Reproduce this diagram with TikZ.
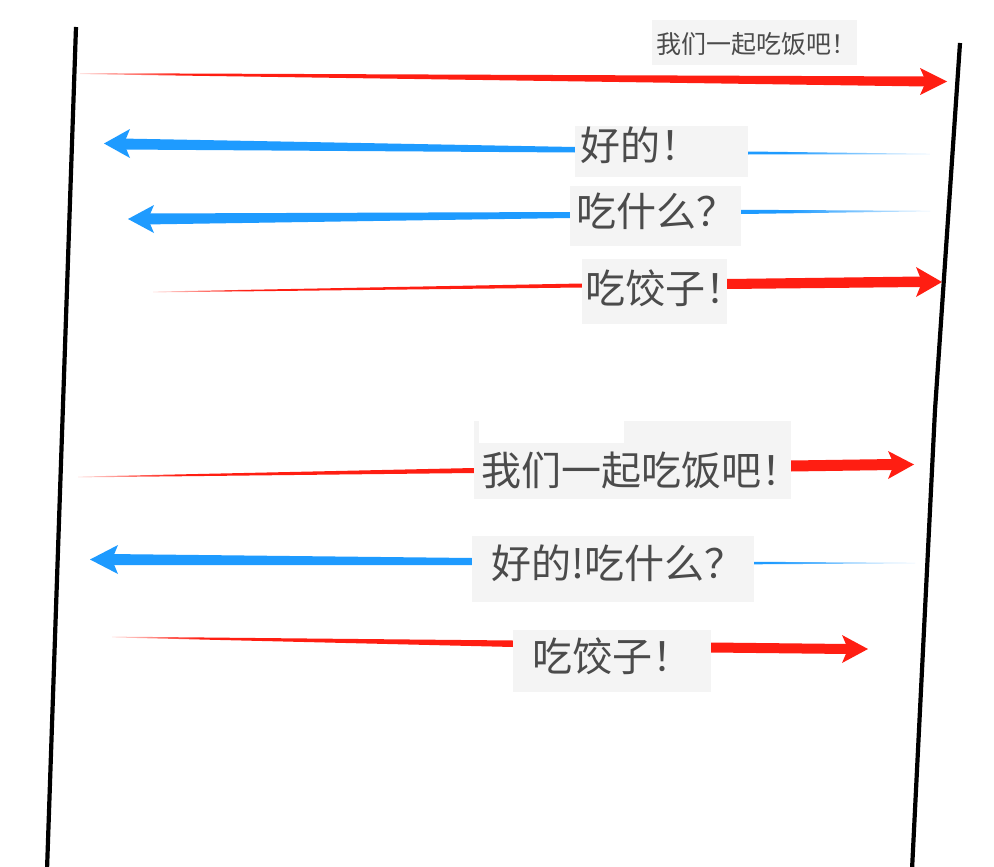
\documentclass[tikz,border=0pt]{standalone}
\usepackage{fontspec}
\newfontfamily\cjk{Noto Sans CJK SC}
\definecolor{arrred}{RGB}{255,30,18}
\definecolor{arrblue}{RGB}{30,155,255}
\definecolor{boxgray}{RGB}{244,244,244}
\definecolor{txtgray}{RGB}{75,75,75}
\pgfdeclarehorizontalshading{redfade}{100bp}{color(0bp)=(arrred!12); color(25bp)=(arrred!12); color(31bp)=(arrred); color(100bp)=(arrred)}
\pgfdeclarehorizontalshading{bluefade}{100bp}{color(0bp)=(arrblue); color(66bp)=(arrblue); color(75bp)=(arrblue!12); color(100bp)=(arrblue!12)}
\tikzset{
  lbox/.style={fill=boxgray, draw=none, inner sep=0pt, anchor=north west},
  ltext/.style={font=\cjk\fontsize{40}{44}\selectfont, text=txtgray, inner sep=0pt, anchor=west},
  stext/.style={font=\cjk\fontsize{25}{28}\selectfont, text=txtgray, inner sep=0pt, anchor=west},
  lifeline/.style={line width=4.2pt, black},
  redshaft/.style={shading=redfade},
  blueshaft/.style={shading=bluefade},
  redhead/.style={fill=arrred},
  bluehead/.style={fill=arrblue}
}
\begin{document}
\begin{tikzpicture}[x=1pt,y=-1pt]
\fill[white] (0,0) rectangle (994,867);
\useasboundingbox (0,0) rectangle (994,867);

% lifelines
\coordinate (L1) at (76,27);
\coordinate (L2) at (47,870);
\coordinate (R1) at (960,43);
\coordinate (R2) at (912,870);

% arrow 1 (red, right)
\coordinate (a1tail) at (80,73.5);
\coordinate (a1tip) at (947,81.5);
\shade[redshaft] (80,73.1) -- (926,76.5) -- (926,86.5) -- (80,74.1) -- cycle;
\fill[redhead] (920,68) -- (a1tip) -- (920,95) -- (926,81.5) -- cycle;

% arrow 2 (blue, left)
\coordinate (a2tail) at (930,154);
\coordinate (a2tip) at (104,143.5);
\shade[blueshaft] (120,138.5) -- (575,147) -- (748,151.5) -- (930,153.8) -- (930,154.3) -- (748,154.5) -- (575,152.5) -- (120,149.5) -- cycle;
\fill[bluehead] (130,129) -- (a2tip) -- (130,158) -- (124,143.5) -- cycle;

% arrow 3 (blue, left)
\coordinate (a3tail) at (930,211);
\coordinate (a3tip) at (128,219);
\shade[blueshaft] (144,213.5) -- (570,212) -- (741,209.8) -- (930,210.8) -- (930,211.3) -- (741,214) -- (570,218) -- (144,224.5) -- cycle;
\fill[bluehead] (154,205) -- (a3tip) -- (154,233) -- (148,219) -- cycle;

% arrow 4 (red, right)
\coordinate (a4tail) at (153,292);
\coordinate (a4tip) at (942,282);
\shade[redshaft] (153,291.6) -- (582,283.5) -- (727,279) -- (922,276.5) -- (922,287) -- (727,289) -- (582,287.5) -- (153,292.4) -- cycle;
\fill[redhead] (916,267) -- (a4tip) -- (916,297) -- (922,282) -- cycle;

% arrow 5 (red, right)
\coordinate (a5tail) at (78,477);
\coordinate (a5tip) at (914,464.5);
\shade[redshaft] (78,476.6) -- (474,468) -- (791,460.5) -- (894,459) -- (894,470) -- (791,471.5) -- (474,473) -- (78,477.4) -- cycle;
\fill[redhead] (888,451) -- (a5tip) -- (888,479) -- (894,464.5) -- cycle;

% arrow 6 (blue, left)
\coordinate (a6tail) at (915,563);
\coordinate (a6tip) at (90,559.5);
\shade[blueshaft] (108,554) -- (472,558) -- (754,561.8) -- (915,562.8) -- (915,563.3) -- (754,564.3) -- (472,565) -- (108,565) -- cycle;
\fill[bluehead] (118,545) -- (a6tip) -- (118,574) -- (112,559.5) -- cycle;

% arrow 7 (red, right)
\coordinate (a7tail) at (112,637);
\coordinate (a7tip) at (868,649);
\shade[redshaft] (112,636.6) -- (513,640.5) -- (711,642.5) -- (848,644) -- (848,654) -- (711,652.5) -- (513,647) -- (112,637.4) -- cycle;
\fill[redhead] (842,635) -- (a7tip) -- (842,663) -- (848,649) -- cycle;

% label boxes
\node[lbox, minimum width=205pt, minimum height=45pt] (b1) at (652,20) {};
\node[lbox, minimum width=173pt, minimum height=51pt] (b2) at (575,126) {};
\node[lbox, minimum width=171pt, minimum height=60pt] (b3) at (570,186) {};
\node[lbox, minimum width=145pt, minimum height=65pt] (b4) at (582,259) {};
\node[lbox, minimum width=317pt, minimum height=78pt] (b5) at (474,421) {};
\fill[white] (479,421) rectangle (624,443);
\node[lbox, minimum width=282pt, minimum height=66pt] (b6) at (472,536) {};
\node[lbox, minimum width=198pt, minimum height=62pt] (b7) at (513,630) {};

% label texts
\node[stext] (t1) at (656,44) {我们一起吃饭吧！};
\node[ltext] (t2) at (580,145) {好的！};
\node[ltext] (t3) at (576,211) {吃什么？};
\node[ltext] (t4) at (585,288) {吃饺子！};
\node[ltext] (t5) at (481,470) {我们一起吃饭吧！};
\node[ltext] (t6) at (491,563) {好的!吃什么？};
\node[ltext] (t7) at (532,656) {吃饺子！};

% lifelines on top
\draw[lifeline] (L1) -- (L2);
\draw[lifeline] (R1) -- (935,410) -- (R2);
\end{tikzpicture}
\end{document}
